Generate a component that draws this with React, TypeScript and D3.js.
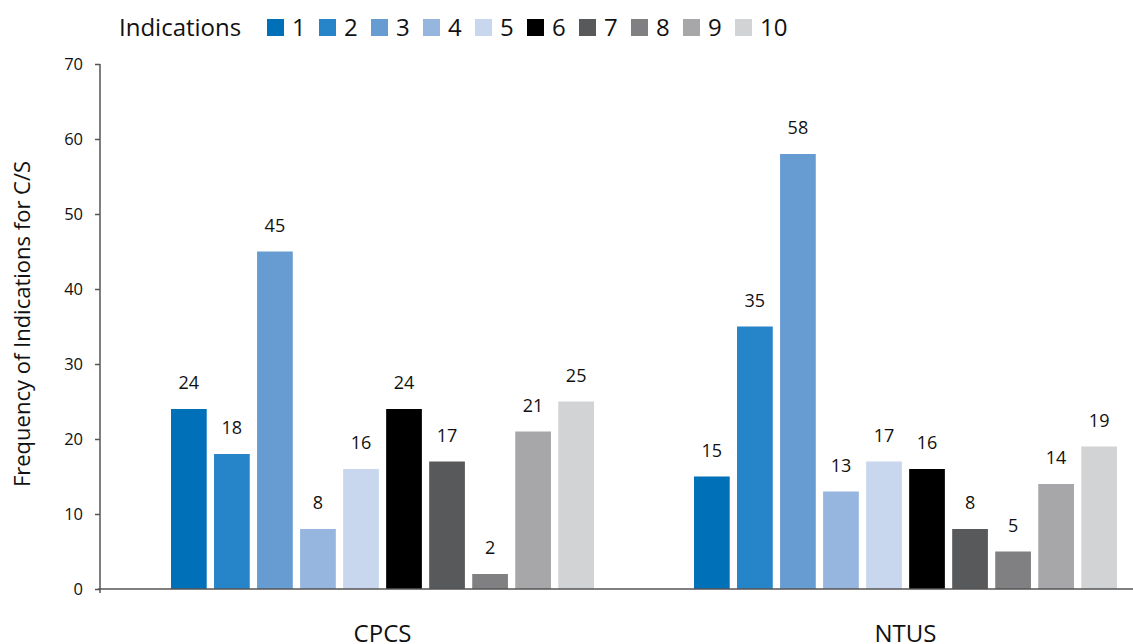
import React, { useEffect, useRef } from 'react';
import * as d3 from 'd3';

const groups = ['CPCS', 'NTUS'];
const indications = ['1', '2', '3', '4', '5', '6', '7', '8', '9', '10'];
const cpcsValues = [24, 18, 45, 8, 16, 24, 17, 2, 21, 25];
const ntusValues = [15, 35, 58, 13, 17, 16, 8, 5, 14, 19];
const colors = ['#0070b8', '#2684c8', '#679cd3', '#96b6e0', '#c8d6ee', '#000000', '#58595b', '#808083', '#a7a7aa', '#d2d3d5'];
const yTicks = [0, 10, 20, 30, 40, 50, 60, 70];

const W = 1133, H = 644;
const FONT = '"Open Sans", "Noto Sans", sans-serif';

const App = () => {
  const ref = useRef<SVGSVGElement>(null);

  useEffect(() => {
    const svg = d3.select(ref.current);
    svg.selectAll('*').remove();

    const y = d3.scaleLinear().domain([0, 70]).range([589, 64]);
    const x0 = d3.scaleBand().domain(groups).range([121, 1167]);
    const x1 = d3.scaleBand().domain(indications).range([50, 473]).paddingInner(0.17);
    const color = d3.scaleOrdinal<string>().domain(indications).range(colors);

    const rows = groups.map((g, i) => ({ group: g, values: i === 0 ? cpcsValues : ntusValues }));

    // bars + value labels
    const g = svg.selectAll('g.grp').data(rows).enter().append('g')
      .attr('transform', d => `translate(${x0(d.group)},0)`);
    g.selectAll('rect').data(d => d.values.map((v, i) => ({ k: indications[i], v })))
      .enter().append('rect')
      .attr('x', d => x1(d.k) ?? 0)
      .attr('width', x1.bandwidth())
      .attr('y', d => y(d.v))
      .attr('height', d => y(0) - y(d.v))
      .attr('fill', d => color(d.k));
    g.selectAll('text').data(d => d.values.map((v, i) => ({ k: indications[i], v })))
      .enter().append('text')
      .attr('x', d => (x1(d.k) ?? 0) + x1.bandwidth() / 2)
      .attr('y', d => y(d.v) - 20)
      .attr('text-anchor', 'middle')
      .attr('font-size', 18)
      .attr('fill', '#111')
      .text(d => d.v);

    // y axis
    const ya = svg.append('g').attr('transform', 'translate(100,0)')
      .call(d3.axisLeft(y).tickValues(yTicks).tickSize(5).tickSizeOuter(0).tickPadding(12));
    ya.select('.domain').attr('stroke', '#555').attr('stroke-width', 1.5).attr('d', 'M0,64V593');
    ya.selectAll('.tick line').attr('stroke', '#555').attr('stroke-width', 1.5);
    ya.selectAll('.tick text').attr('font-size', 16.5).attr('font-family', FONT).attr('fill', '#111');

    // x axis line
    svg.append('line').attr('x1', 98).attr('x2', W).attr('y1', y(0)).attr('y2', y(0))
      .attr('stroke', '#555').attr('stroke-width', 1.5);

    // group labels
    svg.selectAll('text.glab').data(groups).enter().append('text')
      .attr('x', d => (x0(d) ?? 0) + 50 + 423 / 2)
      .attr('y', 642)
      .attr('text-anchor', 'middle')
      .attr('font-size', 24)
      .attr('fill', '#111')
      .text(d => d);

    // y title
    svg.append('text')
      .attr('transform', 'translate(30,324) rotate(-90)')
      .attr('text-anchor', 'middle')
      .attr('font-size', 22)
      .attr('fill', '#111')
      .text('Frequency of Indications for C/S');

    // legend
    svg.append('text').attr('x', 119).attr('y', 36).attr('font-size', 24).attr('fill', '#111').text('Indications');
    const lg = svg.selectAll('g.leg').data(indications).enter().append('g')
      .attr('transform', (d, i) => `translate(${267 + i * 52},19)`);
    lg.append('rect').attr('width', 17).attr('height', 17).attr('fill', d => color(d));
    lg.append('text').attr('x', 25).attr('y', 17).attr('font-size', 24).attr('fill', '#111').text(d => d);
  }, []);

  return (
    <svg ref={ref} width={W} height={H} fontFamily={FONT}
      style={{ position: 'absolute', left: 0, top: 0, background: '#fff' }} />
  );
};

export default App;
